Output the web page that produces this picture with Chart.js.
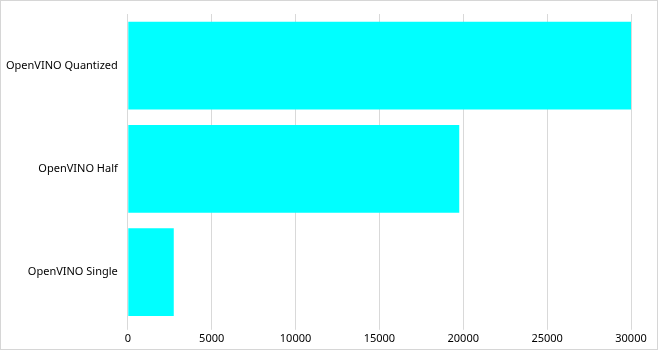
<!DOCTYPE html>
<html>
<head>
<meta charset="utf-8">
<script src="https://cdn.jsdelivr.net/npm/chart.js@4"></script>
<style>
  html, body { margin: 0; padding: 0; background: #fff; }
  #wrap { width: 656px; height: 348px; border: 1px solid #d6d6d6; position: relative; }
</style>
</head>
<body>
<div id="wrap"><canvas id="chart"></canvas></div>
<script>
const categories = ['OpenVINO Quantized', 'OpenVINO Half', 'OpenVINO Single'];
const values = [30000, 19760, 2740];
const xTicks = [0, 5000, 10000, 15000, 20000, 25000, 30000];

Chart.defaults.font.family = '"Noto Sans", "Open Sans", sans-serif';
Chart.defaults.font.size = 11;
Chart.defaults.color = '#000';

const ctx = document.getElementById('chart').getContext('2d');
new Chart(ctx, {
  type: 'bar',
  data: {
    labels: categories,
    datasets: [{
      data: values,
      backgroundColor: '#00ffff',
      borderWidth: 0,
      barPercentage: 0.85,
      categoryPercentage: 1
    }]
  },
  options: {
    indexAxis: 'y',
    responsive: true,
    maintainAspectRatio: false,
    animation: false,
    layout: { padding: { top: 13, right: 26, bottom: 2, left: 3 } },
    plugins: { legend: { display: false }, tooltip: { enabled: false } },
    scales: {
      x: {
        min: 0,
        max: 30000,
        afterBuildTicks: axis => { axis.ticks = xTicks.map(v => ({ value: v })); },
        grid: { color: '#d9d9d9', tickLength: 6 },
        border: { display: false },
        ticks: { padding: 2, maxRotation: 0, callback: v => String(v) }
      },
      y: {
        grid: { display: false },
        border: { display: true, color: '#d9d9d9' },
        ticks: { padding: 2 }
      }
    }
  }
});
</script>
</body>
</html>
